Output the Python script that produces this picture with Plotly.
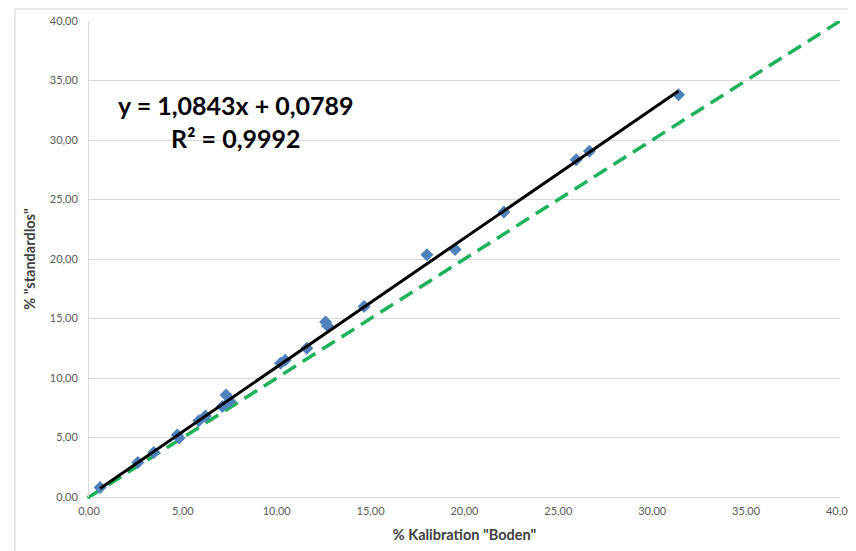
import plotly.graph_objects as go

# Data
kalibration_boden = [0.59, 2.6, 3.45, 4.7, 4.8, 5.85, 6.2, 7.1, 7.3, 7.5,
                     10.2, 10.45, 11.6, 12.6, 12.7, 14.65, 18.0, 19.5, 22.1,
                     25.95, 26.65, 31.4]
standardlos = [0.8, 2.9, 3.75, 5.2, 4.95, 6.4, 6.8, 7.6, 8.57, 8.05,
               11.25, 11.5, 12.5, 14.7, 14.4, 16.0, 20.35, 20.8, 23.95,
               28.35, 29.05, 33.8]

# Trendline coefficients as printed on the chart
slope = 1.0843
intercept = 0.0789
r_squared_text = "0,9992"

# 1:1 reference line
ref_x = [0, 40]
ref_y = [0, 40]

tick_vals = [0, 5, 10, 15, 20, 25, 30, 35, 40]
tick_text = ["0,00", "5,00", "10,00", "15,00", "20,00", "25,00", "30,00", "35,00", "40,00"]

trend_x = [min(kalibration_boden), max(kalibration_boden)]
trend_y = [slope * v + intercept for v in trend_x]

FONT = "Lato"
TICK_COLOR = "#595959"
GRID = "#d9d9d9"

fig = go.Figure()

fig.add_trace(go.Scatter(
    x=ref_x, y=ref_y, mode="lines",
    line=dict(color="#1db15a", width=3.5, dash="15px,8px"),
    hoverinfo="skip", showlegend=False))

fig.add_trace(go.Scatter(
    x=ref_x[:1], y=ref_y[:1], mode="markers",
    marker=dict(color="#1db15a", size=4),
    hoverinfo="skip", showlegend=False, cliponaxis=False))

fig.add_trace(go.Scatter(
    x=kalibration_boden, y=standardlos, mode="markers",
    marker=dict(symbol="diamond", color="#4f81bd", size=10),
    showlegend=False))

fig.add_trace(go.Scatter(
    x=trend_x, y=trend_y, mode="lines",
    line=dict(color="black", width=3),
    showlegend=False))

fmt = lambda v: f"{v:.4f}".replace(".", ",")
fig.add_annotation(
    x=(236 - 89) / 751, y=(497 - 121) / 476, xref="paper", yref="paper",
    xanchor="center", yanchor="middle",
    text=f"y = {fmt(slope)}x + {fmt(intercept)}<br>R² = {r_squared_text}",
    showarrow=False, align="center",
    font=dict(family=FONT, size=25, color="black", weight="bold"))

# outer chart border
fig.add_shape(type="rect", xref="paper", yref="paper",
              x0=(15 - 89) / 751, x1=1.2, y0=-0.2, y1=(497 - 9) / 476,
              line=dict(color="#d0d0d0", width=1), layer="below")

fig.update_xaxes(
    range=[0, 40], tickvals=tick_vals, ticktext=tick_text, automargin=False,
    showgrid=False, showline=False, zeroline=False, ticks="",
    ticklabelstandoff=6, ticklabeloverflow="allow",
    tickfont=dict(family=FONT, size=11, color=TICK_COLOR),
    title=dict(text='% Kalibration "Boden"', standoff=13,
               font=dict(family=FONT, size=14.5, color="#404040", weight="bold")))

fig.update_yaxes(
    range=[0, 40], tickvals=tick_vals, ticktext=tick_text, automargin=False,
    showgrid=True, gridcolor=GRID, gridwidth=1,
    showline=True, linecolor=GRID, linewidth=1,
    zeroline=True, zerolinecolor=GRID, zerolinewidth=1, ticks="",
    ticklabelstandoff=8,
    tickfont=dict(family=FONT, size=11, color=TICK_COLOR),
    title=dict(text='% "standardlos"', standoff=10,
               font=dict(family=FONT, size=14.5, color="#404040", weight="bold")))

# page body has an 8px margin, so the figure is offset by (8, 8)
fig.update_layout(
    width=848, height=543,
    margin=dict(l=81, r=16, t=13, b=54),
    paper_bgcolor="white", plot_bgcolor="white",
    font=dict(family=FONT),
)

fig.write_html("out.html")
